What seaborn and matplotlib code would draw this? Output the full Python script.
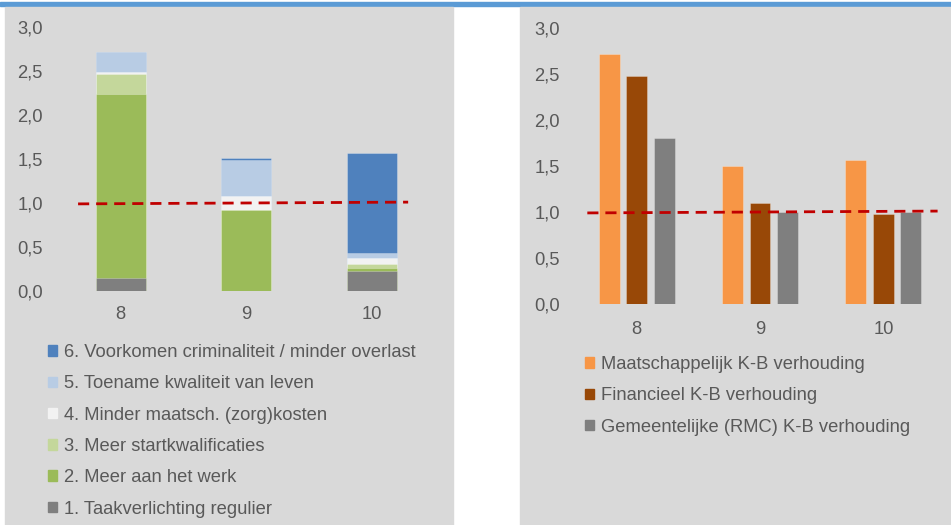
import numpy as np
import pandas as pd
import seaborn as sns
import matplotlib.pyplot as plt
from matplotlib.patches import Rectangle, Patch
from matplotlib.ticker import FuncFormatter

# data
categories = ["8", "9", "10"]

# left panel: stacked components (bottom to top)
taakverlichting = [0.15, 0.00, 0.23]
meer_werk = [2.09, 0.92, 0.03]
startkwalificaties = [0.23, 0.00, 0.05]
zorgkosten = [0.02, 0.16, 0.07]
kwaliteit_leven = [0.23, 0.41, 0.055]
criminaliteit = [0.00, 0.02, 1.13]

layer_labels = ["1. Taakverlichting regulier", "2. Meer aan het werk",
                "3. Meer startkwalificaties", "4. Minder maatsch. (zorg)kosten",
                "5. Toename kwaliteit van leven",
                "6. Voorkomen criminaliteit / minder overlast"]
layer_colors = ["#7f7f7f", "#9bbb59", "#c4d79b", "#f2f2f2", "#b8cce4", "#4f81bd"]

# right panel: cost-benefit ratios
maatschappelijk = [2.72, 1.50, 1.56]
financieel = [2.48, 1.10, 0.98]
gemeentelijk = [1.80, 1.00, 1.00]
series_labels = ["Maatschappelijk K-B verhouding", "Financieel K-B verhouding",
                 "Gemeentelijke (RMC) K-B verhouding"]
series_colors = ["#f79646", "#984807", "#7f7f7f"]

# break-even reference line (slightly tilted in the original)
ref_left_x = [-0.34, 2.29]
ref_right_x = [-0.40, 2.44]
ref_y = [0.99, 1.01]

text_color = "#595959"
fs = 13.2
plt.rcParams["font.family"] = ["Liberation Sans", "DejaVu Sans"]
plt.rcParams["font.size"] = fs

W, H = 951, 525
fig = plt.figure(figsize=(W / 100, H / 100), dpi=100)
fig.patch.set_facecolor("white")

def px_rect(x0, y0, x1, y1, color):
    fig.patches.append(Rectangle((x0 / W, 1 - y1 / H), (x1 - x0) / W, (y1 - y0) / H,
                                 transform=fig.transFigure, color=color, zorder=-1))

px_rect(0, 2, W, 6, "#5b9bd5")
px_rect(5, 7, 453, H, "#d9d9d9")
px_rect(520, 7, W, H, "#d9d9d9")

def px_axes(x0, y0, x1, y1):
    ax = fig.add_axes([x0 / W, 1 - y1 / H, (x1 - x0) / W, (y1 - y0) / H])
    ax.set_facecolor("none")
    for s in ax.spines.values():
        s.set_visible(False)
    ax.tick_params(length=0, colors=text_color, labelsize=fs)
    ax.yaxis.set_major_formatter(FuncFormatter(lambda v, p: f"{v:.1f}".replace(".", ",")))
    return ax

# ---- left: stacked bars drawn as overlapping cumulative totals
axl = px_axes(58, 27, 434.5, 291)
layers = [taakverlichting, meer_werk, startkwalificaties, zorgkosten,
          kwaliteit_leven, criminaliteit]
cum = np.cumsum(np.array(layers), axis=0)
for i in range(len(layers) - 1, -1, -1):
    sns.barplot(x=categories, y=cum[i], color=layer_colors[i], width=0.4,
                saturation=1, ax=axl, edgecolor=(1, 1, 1, 0.3), linewidth=0.6)
sns.lineplot(x=ref_left_x, y=ref_y, color="#c00000", lw=2, ax=axl,
             dashes=(4, 2.5), zorder=5)
axl.set_xlim(-0.5, 2.5)
axl.set_ylim(0, 3)
axl.set_yticks(np.arange(0, 3.01, 0.5))
axl.tick_params(axis="y", pad=11)
axl.tick_params(axis="x", pad=11)
axl.set_xlabel("")
axl.set_ylabel("")

hl = [Patch(color=c) for c in layer_colors][::-1]
fig.legend(hl, layer_labels[::-1], loc="upper left",
           bbox_to_anchor=(48 / W, 1 - 344 / H), frameon=False,
           handlelength=0.5, handleheight=0.5, handletextpad=0.35,
           labelspacing=0.78, borderpad=0, borderaxespad=0,
           labelcolor=text_color, fontsize=fs)

# ---- right: grouped bars
axr = px_axes(575, 28, 945, 304)
df = pd.DataFrame({
    "cat": categories * 3,
    "value": maatschappelijk + financieel + gemeentelijk,
    "series": sum([[s] * 3 for s in series_labels], []),
})
sns.barplot(data=df, x="cat", y="value", hue="series", palette=series_colors,
            width=0.667, gap=0.235, saturation=1, legend=False, ax=axr,
            edgecolor=(1, 1, 1, 0.3), linewidth=0.6)
sns.lineplot(x=ref_right_x, y=ref_y, color="#c00000", lw=2, ax=axr,
             dashes=(4, 2.5), zorder=5)
axr.set_xlim(-0.5, 2.5)
axr.set_ylim(0, 3)
axr.set_yticks(np.arange(0, 3.01, 0.5))
axr.tick_params(axis="y", pad=11)
axr.tick_params(axis="x", pad=12)
axr.set_xlabel("")
axr.set_ylabel("")

hr = [Patch(color=c) for c in series_colors]
fig.legend(hr, series_labels, loc="upper left",
           bbox_to_anchor=(585 / W, 1 - 356 / H), frameon=False,
           handlelength=0.5, handleheight=0.5, handletextpad=0.35,
           labelspacing=0.78, borderpad=0, borderaxespad=0,
           labelcolor=text_color, fontsize=fs)

fig.savefig("out.png", dpi=100)
